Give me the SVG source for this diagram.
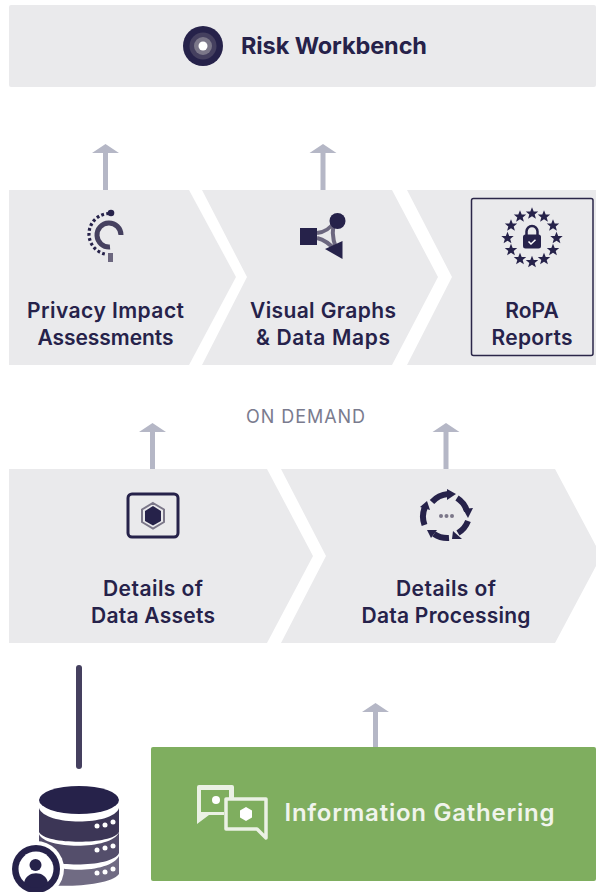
<svg xmlns="http://www.w3.org/2000/svg" width="596" height="892" viewBox="0 0 596 892">
<style>
.b{fill:#eaeaec}
.t{font-family:"Inter","Liberation Sans",sans-serif;font-weight:600;fill:#26224a;text-anchor:middle;font-size:21px}
.d{fill:#26224a}
.a{fill:#b5b7c6}
</style>
<defs>
<path id="star" d="M0-6.300 1.700-2.100 6.200-1.900 2.700 .9 3.900 5.200 0 2.800 -3.900 5.200 -2.700 .9 -6.200-1.900 -1.700-2.100Z" class="d"/>
<path id="arr" d="M-2.500 0V-37H-13.500L0-46 13.500-37H2.500V0Z" class="a"/>
</defs>
<g id="connectors">
<use href="#arr" x="105.500" y="190"/>
<use href="#arr" x="323" y="190"/>
<use href="#arr" x="152.500" y="469"/>
<use href="#arr" x="446" y="469"/>
<use href="#arr" x="375.500" y="749"/>
<line x1="79" y1="668" x2="79" y2="766" stroke="#45405f" stroke-width="6" stroke-linecap="round"/>
</g>
<g id="risk-workbench">
<rect class="b" x="9" y="5" width="587" height="82" rx="2"/>
<circle cx="203" cy="46" r="20" fill="#26224a"/>
<circle cx="203" cy="46" r="13.500" fill="#45405f"/>
<circle cx="203" cy="46" r="9" fill="#7b7789"/>
<circle cx="203" cy="46" r="4.500" fill="#fff"/>
<text class="t" x="334" y="54" style="font-size:23.500px;font-weight:700" textLength="186">Risk Workbench</text>
</g>
<g id="privacy-impact">
<path class="b" d="M9 190H189L236 277 189 365H9Z"/>
<path d="M109 213.500A20.500 20.500 0 0 0 105 254" fill="none" stroke="#26224a" stroke-width="3.200" stroke-dasharray="2.800 2.300"/>
<circle cx="111" cy="213" r="3.300" class="d"/>
<path d="M121 235A12 12 0 1 0 110 247" fill="none" stroke="#45405f" stroke-width="5"/>
<rect x="108" y="253" width="5" height="9" fill="#6c677f"/>
<text class="t" x="105.500" y="318" textLength="157">Privacy Impact</text>
<text class="t" x="105.500" y="345" textLength="136">Assessments</text>
</g>
<g id="visual-graphs">
<path class="b" d="M202 190H392L438 277 392 365H202L247 277Z"/>
<path d="M317 233C325 232 330 229 335 221M317 238C325 240 330 244 335 250M335 221C331 230 333 240 336 248" fill="none" stroke="#6c677f" stroke-width="4"/>
<rect x="300" y="228" width="17" height="17" class="d"/>
<circle cx="337.500" cy="221" r="8" class="d"/>
<path d="M342.500 241V259L325 249Z" class="d"/>
<text class="t" x="323" y="318" textLength="146">Visual Graphs</text>
<text class="t" x="323" y="345" textLength="134">&amp; Data Maps</text>
</g>
<g id="ropa-reports">
<path class="b" d="M407 190H596V365H407L452 277Z"/>
<rect x="471.500" y="198.500" width="121.500" height="157" rx="2" fill="none" stroke="#2b2749" stroke-width="1.500"/>
<g transform="translate(532 238)">
<use href="#star" y="-24.500"/><use href="#star" x="12" y="-21.500"/><use href="#star" x="21" y="-12.500"/><use href="#star" x="24.500" y="0"/><use href="#star" x="21" y="12"/><use href="#star" x="12" y="21"/><use href="#star" y="24"/><use href="#star" x="-12" y="21"/><use href="#star" x="-21" y="12"/><use href="#star" x="-24.500" y="0"/><use href="#star" x="-21" y="-12.500"/><use href="#star" x="-12" y="-21.500"/>
<rect x="-9" y="-3.500" width="18" height="14" rx="2.500" class="d"/>
<path d="M-5.500-3V-6.500A5.500 5.500 0 0 1 5.500-6.500V-3" fill="none" stroke="#26224a" stroke-width="2.500"/>
<path d="M-3.500 3.500-1 6 3.500 1.800" fill="none" stroke="#fff" stroke-width="1.500"/>
</g>
<text class="t" x="532" y="318">RoPA</text>
<text class="t" x="532" y="345" textLength="81">Reports</text>
</g>
<text id="on-demand" x="305.500" y="423" font-family="Inter,'Liberation Sans',sans-serif" font-size="18" fill="#7a7b8e" text-anchor="middle" textLength="119">ON DEMAND</text>
<g id="data-assets">
<path class="b" d="M9 469H267L313 556 267 643H9Z"/>
<rect x="128" y="494" width="50" height="43" rx="4" fill="none" stroke="#26224a" stroke-width="3"/>
<path d="M153 503 164 509.500V522L153 528.500 142 522V509.500Z" fill="none" stroke="#7b7789" stroke-width="2"/>
<path d="M153 506 161 511V521L153 525.500 145 521V511Z" class="d"/>
<text class="t" x="153" y="596" textLength="100">Details of</text>
<text class="t" x="153" y="623" textLength="124">Data Assets</text>
</g>
<g id="data-processing">
<path class="b" d="M281 469H555L596 546V566L555 643H281L326 556Z"/>
<g fill="none" stroke="#26224a" stroke-width="6">
<path d="M432 502A24 24 0 0 1 448 494"/>
<path d="M457 498A24 24 0 0 1 467 511"/>
<path d="M468 521A24 24 0 0 1 458 533"/>
<path d="M449 538A24 24 0 0 1 434 534"/>
<path d="M424.500 525A24 24 0 0 1 425 507"/>
</g>
<g class="d">
<path d="M447 489 456 494 447 500Z"/>
<path d="M463 509 473 508 468 518Z"/>
<path d="M462 539 452 539 453 531Z"/>
<path d="M427 530 437 530 431 538Z"/>
<path d="M420 507 427 501 430 510Z"/>
</g>
<g fill="#7b7789"><circle cx="441" cy="516" r="2"/><circle cx="446.500" cy="516" r="2"/><circle cx="452" cy="516" r="2"/></g>
<text class="t" x="446" y="596" textLength="100">Details of</text>
<text class="t" x="446" y="623" textLength="169">Data Processing</text>
</g>
<g id="database">
<path d="M39 808C45 826 113 826 119 808V832C113 845 45 845 39 832Z" fill="#3c3656"/>
<path d="M39 834C45 850 113 850 119 832V853C113 868 45 868 39 855Z" fill="#544e6b"/>
<path d="M39 858C50 874 110 874 119 856V874C110 886 60 888 39 884Z" fill="#706b83"/>
<ellipse cx="79" cy="800" rx="40" ry="14" class="d"/>
<g fill="#fff"><circle cx="97" cy="826" r="2.500"/><circle cx="105" cy="825" r="2.500"/><circle cx="113" cy="822" r="2.500"/><circle cx="97" cy="850" r="2.500"/><circle cx="105" cy="848" r="2.500"/><circle cx="113" cy="846" r="2.500"/><circle cx="97" cy="873" r="2.500"/><circle cx="105" cy="872" r="2.500"/><circle cx="113" cy="869" r="2.500"/></g>
<circle cx="36" cy="869" r="28" fill="#fff"/>
<circle cx="36" cy="869" r="24" class="d"/>
<circle cx="36" cy="869" r="17.500" fill="#fff"/>
<circle cx="35.500" cy="865" r="6" class="d"/>
<path d="M24 883C26 870 46 870 48 883A17 17 0 0 1 24 883Z" class="d"/>
</g>
<g id="information-gathering">
<rect x="151" y="747" width="445" height="134" rx="2" fill="#7fae5f"/>
<path d="M199 785H232A2 2 0 0 1 234 787V798H229V790H201V812H224V815H209L197 824V787A2 2 0 0 1 199 785Z" fill="#ebf1e5"/>
<circle cx="216" cy="800" r="4" fill="#fff"/>
<path d="M226 799H266V838L257 829H226Z" fill="none" stroke="#ebf1e5" stroke-width="3.500" stroke-linejoin="round"/>
<path d="M246 807 252 810.500V817.500L246 821 240 817.500V810.500Z" fill="#fff"/>
<text class="t" x="419.500" y="821" style="fill:#f0f4ec;font-size:24px" textLength="270">Information Gathering</text>
</g>
</svg>
